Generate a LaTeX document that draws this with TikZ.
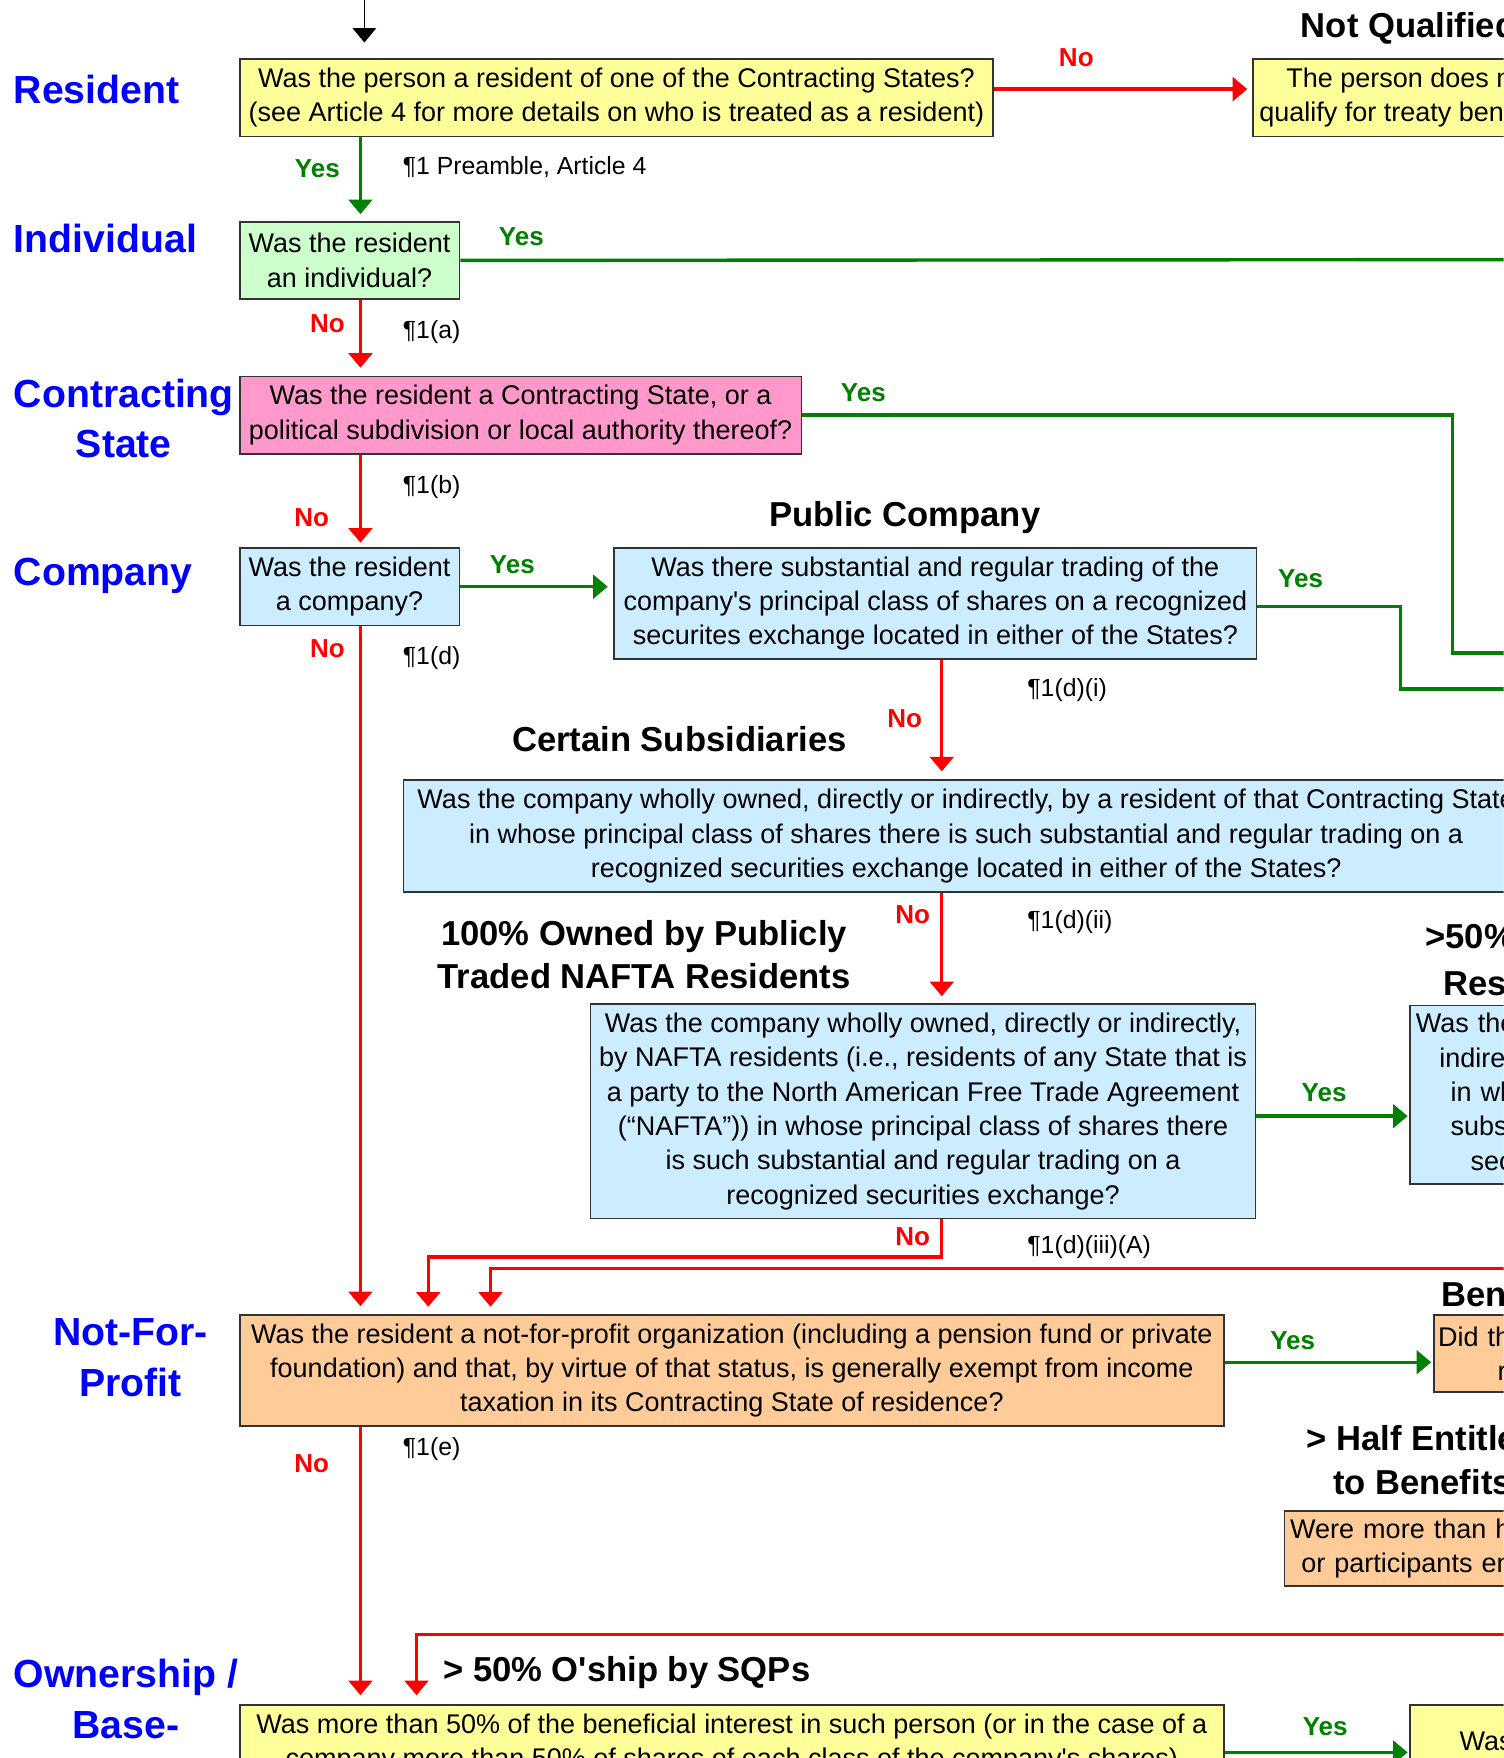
\documentclass[tikz,border=0pt]{standalone}
\usepackage{fontspec}
\setmainfont{Liberation Sans}[Ligatures=TeXOff]
\usetikzlibrary{arrows.meta}
\newcommand\spx[1]{\the\dimexpr#1\dimexpr0.5604pt\relax\relax}
\definecolor{cgreen}{HTML}{008000}
\definecolor{cred}{HTML}{FF0000}
\definecolor{cblue}{HTML}{0000FF}
\definecolor{fyellow}{HTML}{FFFF99}
\definecolor{fgreen}{HTML}{CCFFCC}
\definecolor{fpink}{HTML}{FF99CC}
\definecolor{fblue}{HTML}{CCECFF}
\definecolor{forange}{HTML}{FFCC99}
\begin{document}
\begin{tikzpicture}[x=0.5604pt, y=-0.5604pt,
  qbox/.style={draw=black!80, line width=0.85pt, fill=#1, inner sep=0pt, align=center, anchor=north west,
    font=\fontsize{13.5}{17.15}\selectfont},
  lqbox/.style={qbox=#1, align=left},
  gline/.style={draw=cgreen, line width=1.7pt},
  rline/.style={draw=cred, line width=1.7pt},
  headtip/.style={-{Triangle[length=\spx{13},width=\spx{21}]}},
  garr/.style={gline, headtip},
  rarr/.style={rline, headtip},
  yeslbl/.style={text=cgreen, font=\fontsize{13}{15}\bfseries\selectfont, inner sep=0pt, anchor=base},
  nolbl/.style={text=cred, font=\fontsize{13}{15}\bfseries\selectfont, inner sep=0pt, anchor=base},
  parlbl/.style={font=\fontsize{12.4}{15}\selectfont, inner sep=0pt, anchor=base west},
  sidelbl/.style={text=cblue, font=\fontsize{19.6}{25.2}\bfseries\selectfont, inner sep=0pt, align=center},
  ttl/.style={font=\fontsize{17.3}{21.9}\bfseries\selectfont, inner sep=0pt, align=center},
]
\useasboundingbox (0,0) rectangle (1341,1568);
\fill[white] (0,0) rectangle (1341,1568);
\clip (0,0) rectangle (1341,1568);

% ---------- side labels ----------
\node[sidelbl, anchor=base west] (lres) at (12,92.5) {Resident};
\node[sidelbl, anchor=base west] (lind) at (12,225.5) {Individual};
\node[sidelbl, anchor=west] (lcs) at (12,373.5) {Contracting\\State};
\node[sidelbl, anchor=base west] (lcomp) at (12,522.5) {Company};
\node[sidelbl, anchor=west] (lnfp) at (47,1211) {Not-For-\\Profit};
\node[sidelbl, anchor=west] (lown) at (12,1515.5) {Ownership /\\Base-};

% ---------- titles ----------
\node[ttl, anchor=base west] (tnq) at (1160,33) {Not Qualified};
\node[ttl, anchor=base] (tpub) at (807,470) {Public Company};
\node[ttl, anchor=base] (tcert) at (606,670) {Certain Subsidiaries};
\node[ttl, anchor=west] (thund) at (390,851.5) {100\% Owned by Publicly\\Traded NAFTA Residents};
\node[ttl, anchor=west, font=\fontsize{17.3}{23.5}\bfseries\selectfont] (tfifty) at (1271,859) {>50\% Owned by Public\\Resident Companies};
\node[ttl, anchor=base west] (tben) at (1285,1165) {Beneficiaries};
\node[ttl, anchor=west] (thalf) at (1165,1302.5) {> Half Entitled\\to Benefits};
\node[ttl, anchor=base west] (tsqp) at (395,1500) {> 50\% O'ship by SQPs};

% ---------- boxes ----------
\node[qbox=fyellow, minimum width=\spx{672}, minimum height=\spx{69}] (res) at (213,52)
  {Was the person a resident of one of the Contracting States?\\(see Article 4 for more details on who is treated as a resident)};
\node[qbox=fyellow, minimum width=\spx{280}, minimum height=\spx{69}] (nq) at (1117,52)
  {The person does not\\qualify for treaty benefits.};
\node[qbox=fgreen, minimum width=\spx{196}, minimum height=\spx{69}] (ind) at (213,197)
  {Was the resident\\an individual?};
\node[qbox=fpink, minimum width=\spx{501}, minimum height=\spx{69}] (cs) at (213,335)
  {Was the resident a Contracting State, or a\\political subdivision or local authority thereof?};
\node[qbox=fblue, minimum width=\spx{196}, minimum height=\spx{69}] (comp) at (213,488)
  {Was the resident\\a company?};
\node[qbox=fblue, minimum width=\spx{573}, minimum height=\spx{99}] (pub) at (547,488)
  {Was there substantial and regular trading of the\\company's principal class of shares on a recognized\\securites exchange located in either of the States?};
\node[qbox=fblue, minimum width=\spx{1004}, minimum height=\spx{100}] (cert) at (359,695)
  {Was the company wholly owned, directly or indirectly, by a resident of that Contracting State\\in whose principal class of shares there is such substantial and regular trading on a\\recognized securities exchange located in either of the States?};
\node[qbox=fblue, minimum width=\spx{593}, minimum height=\spx{191}] (hund) at (526,895)
  {Was the company wholly owned, directly or indirectly,\\by NAFTA residents (i.e., residents of any State that is\\a party to the North American Free Trade Agreement\\(“NAFTA”)) in whose principal class of shares there\\is such substantial and regular trading on a\\recognized securities exchange?};
\node[lqbox=fblue, text width=\spx{580}, inner xsep=\spx{5}, minimum height=\spx{159}] (fifty) at (1257,896)
  {Was the company more than 50\% owned, directly or\\\hspace*{\spx{21}}indirectly, by publicly traded residents of either\\\hspace*{\spx{31}}in whose principal class of shares there is such\\\hspace*{\spx{31}}substantial and regular trading on a recognized\\\hspace*{\spx{49}}securities exchange?};
\node[qbox=forange, minimum width=\spx{878}, minimum height=\spx{99}] (nfp) at (213,1172)
  {Was the resident a not-for-profit organization (including a pension fund or private\\foundation) and that, by virtue of that status, is generally exempt from income\\taxation in its Contracting State of residence?};
\node[lqbox=forange, text width=\spx{420}, inner xsep=\spx{4}, minimum height=\spx{69}] (ben) at (1278,1172)
  {Did the organization's beneficiaries\\\hspace*{\spx{53}}reside in either of the States?};
\node[lqbox=forange, text width=\spx{560}, inner xsep=\spx{5}, minimum height=\spx{67}] (halfent) at (1145,1347)
  {Were more than half of the beneficiaries, members\\\hspace*{\spx{10}}or participants entitled to benefits?};
\node[qbox=fyellow, minimum width=\spx{878}, minimum height=\spx{99}] (own) at (213,1520)
  {Was more than 50\% of the beneficial interest in such person (or in the case of a\\company more than 50\%  of shares of each class of the company's shares)\\is owned, directly or indirectly, by persons entitled to treaty benefits?};
\node[lqbox=fyellow, text width=\spx{560}, inner xsep=\spx{11}, minimum height=\spx{99}] (own2) at (1257,1520)
  {\hspace*{\spx{33}}Was less than 50\% of the gross income paid,\\indirectly, to persons not entitled to benefits?};

% ---------- coordinates ----------
\coordinate (cT) at (325,0);
\coordinate (tstart) at (325,-5);
\coordinate (cA) at (321.5,0);
\coordinate (cB) at (840,0);
\coordinate (cC) at (382,0);
\coordinate (cD) at (437.5,0);
\coordinate (cE) at (371.5,0);
\coordinate (yNQ) at (0,79.5);
\coordinate (yPub) at (0,541);
\coordinate (yFifty) at (0,995.5);
\coordinate (yBen) at (0,1215);
\coordinate (yOwn) at (0,1563);
\coordinate (gA) at (1360,231.5);
\coordinate (gB) at (1295.5,582.5);
\coordinate (gBe) at (1360,582.5);
\coordinate (gC) at (1249,614.5);
\coordinate (gCe) at (1360,614.5);
\coordinate (rA) at (840,1121);
\coordinate (rB) at (1360,1131.5);
\coordinate (rC) at (1360,1458);

% ---------- connectors ----------
\draw[black, line width=0.75pt, headtip, shorten >=\spx{14}] (tstart) -- (res.north -| cT);
\draw[rarr, shorten >=\spx{4.5}] (res.east |- yNQ) -- (nq.west |- yNQ);
\draw[garr, shorten >=\spx{6}] (res.south -| cA) -- (ind.north -| cA);
\draw[gline] (ind.east) -- (gA);
\draw[rarr, shorten >=\spx{7}] (ind.south -| cA) -- (cs.north -| cA);
\draw[gline] (cs.east) -| (gB) -- (gBe);
\draw[rarr, shorten >=\spx{4}] (cs.south -| cA) -- (comp.north -| cA);
\draw[garr, shorten >=\spx{5}] (comp.east) -- (pub.west |- comp.east);
\draw[gline] (pub.east |- yPub) -| (gC) -- (gCe);
\draw[rarr, shorten >=\spx{7}] (pub.south -| cB) -- (cert.north -| cB);
\draw[rarr, shorten >=\spx{7}] (comp.south -| cA) -- (nfp.north -| cA);
\draw[rarr, shorten >=\spx{6.5}] (cert.south -| cB) -- (hund.north -| cB);
\draw[garr, shorten >=\spx{1.5}] (hund.east |- yFifty) -- (fifty.west |- yFifty);
\draw[rarr, shorten >=\spx{6.5}] (hund.south -| cB) -- (rA) -| (nfp.north -| cC);
\draw[rarr, shorten >=\spx{6.5}] (rB) -| (nfp.north -| cD);
\draw[garr, shorten >=\spx{1.5}] (nfp.east |- yBen) -- (ben.west |- yBen);
\draw[rarr, shorten >=\spx{8}] (nfp.south -| cA) -- (own.north -| cA);
\draw[rarr, shorten >=\spx{8}] (rC) -| (own.north -| cE);
\draw[garr, shorten >=\spx{1.5}] (own.east |- yOwn) -- (own2.west |- yOwn);

% ---------- Yes / No labels ----------
\node[nolbl] (n1) at (960,59.3) {No};
\node[yeslbl] (y1) at (283,158.3) {Yes};
\node[yeslbl] (y2) at (465,219.3) {Yes};
\node[nolbl] (n2) at (292,296.3) {No};
\node[yeslbl] (y3) at (770,358.3) {Yes};
\node[nolbl] (n3) at (278,469.3) {No};
\node[yeslbl] (y4) at (457,511.3) {Yes};
\node[yeslbl] (y5) at (1160,524.3) {Yes};
\node[nolbl] (n4) at (292,586.3) {No};
\node[nolbl] (n5) at (807,649.3) {No};
\node[nolbl] (n6) at (814,823.3) {No};
\node[yeslbl] (y6) at (1181,982.3) {Yes};
\node[nolbl] (n7) at (814,1111.3) {No};
\node[yeslbl] (y7) at (1153,1203.3) {Yes};
\node[nolbl] (n8) at (278,1313.3) {No};
\node[yeslbl] (y8) at (1182,1548.3) {Yes};

% ---------- paragraph references ----------
\node[parlbl] (p1) at (359,155.9) {¶1 Preamble, Article 4};
\node[parlbl] (p2) at (359,301.9) {¶1(a)};
\node[parlbl] (p3) at (359,439.9) {¶1(b)};
\node[parlbl] (p4) at (359,592.9) {¶1(d)};
\node[parlbl] (p5) at (916,620.9) {¶1(d)(i)};
\node[parlbl] (p6) at (916,827.9) {¶1(d)(ii)};
\node[parlbl] (p7) at (916,1117.9) {¶1(d)(iii)(A)};
\node[parlbl] (p8) at (359,1297.9) {¶1(e)};
\end{tikzpicture}
\end{document}
